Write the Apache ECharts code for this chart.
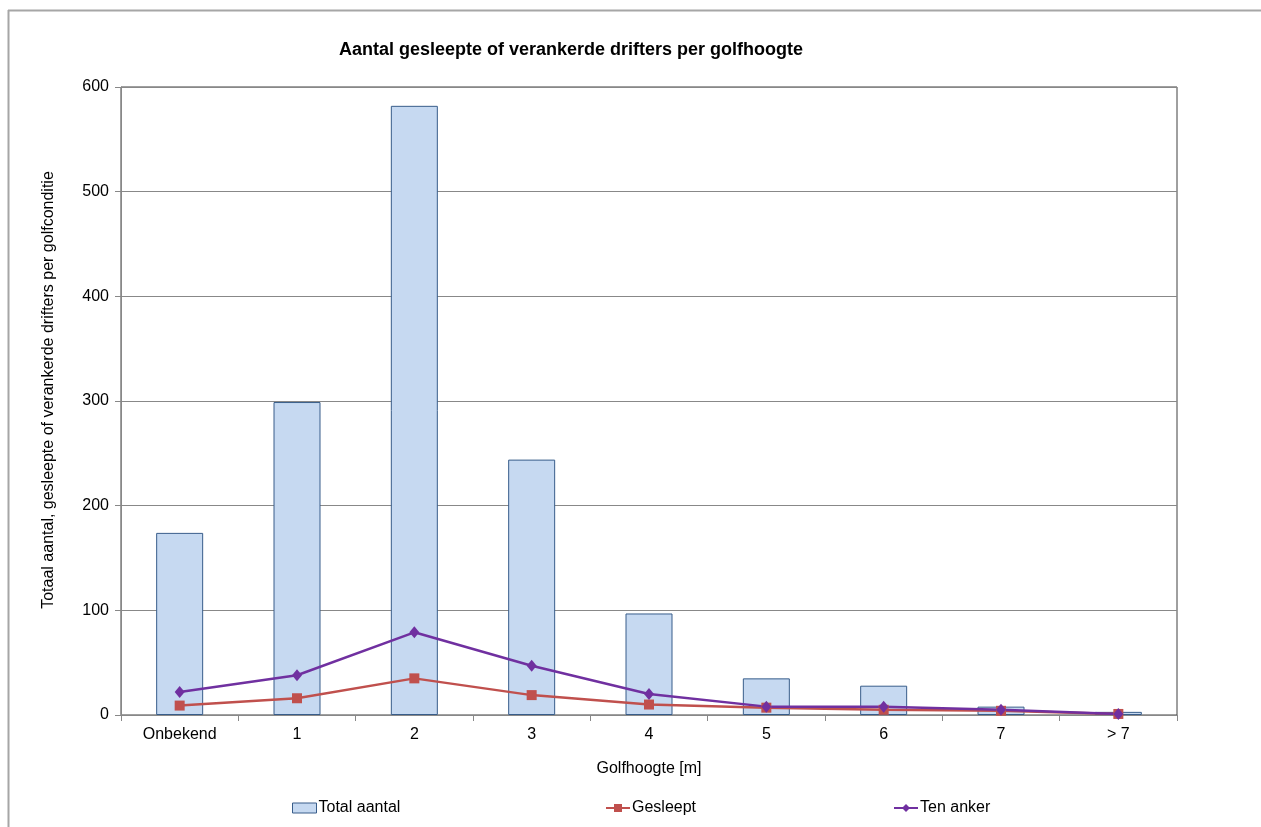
<!DOCTYPE html>
<html>
<head>
<meta charset="utf-8">
<script src="https://cdn.jsdelivr.net/npm/echarts@6/dist/echarts.min.js"></script>
<style>
  html, body { margin: 0; padding: 0; background: #fff; }
  #chart { width: 1261px; height: 827px; }
</style>
</head>
<body>
<div id="chart"></div>
<script>
// Wave-height classes and counts of drifters
const categories = ['Onbekend', '1', '2', '3', '4', '5', '6', '7', '> 7'];
const totalAantal = [174, 299, 582, 244, 97, 35, 28, 8, 3];
const gesleept = [9, 16, 35, 19, 10, 7, 5, 4, 1];
const tenAnker = [22, 38, 79, 47, 20, 8, 8, 5, 1];
const yTicks = { min: 0, max: 600, interval: 100 };

const font = 'Liberation Sans, Arial, sans-serif';
const chart = echarts.init(document.getElementById('chart'), null, { renderer: 'canvas' });

const legendText = { fontFamily: font, fontSize: 16, color: '#000', padding: [0, 0, 0, -3] };

chart.setOption({
  animation: false,
  backgroundColor: '#fff',
  title: {
    text: 'Aantal gesleepte of verankerde drifters per golfhoogte',
    left: 566, top: 36, textAlign: 'center',
    textStyle: { fontFamily: font, fontSize: 18, fontWeight: 'bold', color: '#000' }
  },
  grid: {
    left: 121, right: 84, top: 87, bottom: 112,
    show: true, borderColor: '#404040', borderWidth: 1, backgroundColor: 'transparent'
  },
  legend: [
    { data: [{ name: 'Total aantal', icon: 'rect' }], left: 287, top: 795, itemWidth: 24, itemHeight: 10,
      itemStyle: { borderColor: '#385d8a', borderWidth: 1 }, textStyle: legendText },
    { data: ['Gesleept'], left: 600, top: 795, itemWidth: 24, itemHeight: 10, textStyle: legendText },
    { data: ['Ten anker'], left: 888, top: 795, itemWidth: 24, itemHeight: 10, textStyle: legendText }
  ],
  xAxis: {
    type: 'category',
    data: categories,
    name: 'Golfhoogte [m]',
    nameLocation: 'middle',
    nameGap: 46,
    nameTextStyle: { fontFamily: font, fontSize: 16, color: '#000' },
    axisLine: { lineStyle: { color: '#888', width: 1 } },
    axisTick: { show: true, length: 6, lineStyle: { color: '#888' } },
    axisLabel: { fontFamily: font, fontSize: 16, color: '#000', margin: 12 },
    splitLine: { show: false }
  },
  yAxis: {
    type: 'value',
    min: yTicks.min, max: yTicks.max, interval: yTicks.interval,
    name: 'Totaal aantal, gesleepte of verankerde drifters per golfconditie',
    nameLocation: 'middle',
    nameGap: 64,
    nameTextStyle: { fontFamily: font, fontSize: 16, color: '#000', padding: [0, 0, 0, 22] },
    axisLine: { show: true, lineStyle: { color: '#888', width: 1 } },
    axisTick: { show: true, length: 6, lineStyle: { color: '#888' } },
    axisLabel: { fontFamily: font, fontSize: 16, color: '#000', margin: 12 },
    splitLine: { show: true, lineStyle: { color: '#888', width: 1 } }
  },
  series: [
    {
      name: 'Total aantal', type: 'bar', data: totalAantal, barWidth: 47,
      itemStyle: { color: '#c6d9f1', borderColor: '#385d8a', borderWidth: 1 }
    },
    {
      name: 'Gesleept', type: 'line', data: gesleept,
      symbol: 'rect', symbolSize: 10,
      lineStyle: { color: '#c0504d', width: 2.5 },
      itemStyle: { color: '#c0504d' }
    },
    {
      name: 'Ten anker', type: 'line', data: tenAnker,
      symbol: 'diamond', symbolSize: [10, 12],
      lineStyle: { color: '#7030a0', width: 2.5 },
      itemStyle: { color: '#7030a0' }
    }
  ],
  graphic: [
    { type: 'line', shape: { x1: 8, y1: 10.5, x2: 1261, y2: 10.5 }, style: { stroke: '#a6a6a6', lineWidth: 2 } },
    { type: 'line', shape: { x1: 8.5, y1: 10, x2: 8.5, y2: 827 }, style: { stroke: '#a6a6a6', lineWidth: 2 } }
  ]
});
</script>
</body>
</html>
